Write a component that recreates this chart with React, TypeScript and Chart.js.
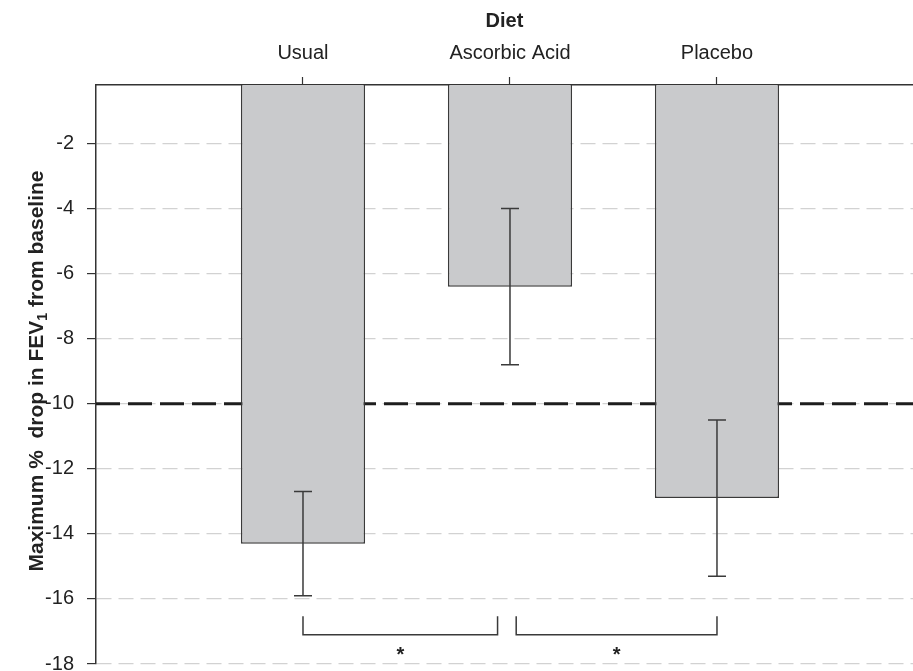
import React, { useEffect, useRef } from "react";
import { Chart, registerables } from "chart.js";

Chart.register(...registerables);

// ---- data ----
const categories = ["Usual", "Ascorbic Acid", "Placebo"];
const categoryPositions = [1, 2, 3];
const meanDrop = [-14.3, -6.4, -12.9];
const errorTop = [-12.7, -4.0, -10.5];
const errorBottom = [-15.9, -8.8, -15.3];
const yTicks = [-2, -4, -6, -8, -10, -12, -14, -16, -18];
const thresholdValue = -10;
const bracketStart = [1, 2.03];
const bracketEnd = [1.94, 3];
const bracketLabels = ["*", "*"];
const bracketLineValue = -17.1;
const bracketTickValue = -16.53;
const bracketLabelValue = -17.6;

const FONT = "'Liberation Sans', Arial, Helvetica, sans-serif";

const overlayPlugin = {
  id: "overlay",
  beforeDatasetsDraw(chart: any) {
    const { ctx, chartArea, scales } = chart;
    const y = scales.y;
    ctx.save();
    ctx.beginPath();
    ctx.rect(chartArea.left, chartArea.top, chartArea.right - chartArea.left, chartArea.bottom - chartArea.top);
    ctx.clip();
    const ty = y.getPixelForValue(thresholdValue);
    ctx.setLineDash([24, 8]);
    ctx.lineWidth = 3;
    ctx.strokeStyle = "#1e1e1e";
    ctx.beginPath();
    ctx.moveTo(chartArea.left, ty);
    ctx.lineTo(chartArea.right, ty);
    ctx.stroke();
    ctx.restore();
  },
  afterDatasetsDraw(chart: any) {
    const { ctx, scales } = chart;
    const x = scales.x;
    const y = scales.y;
    ctx.save();
    ctx.strokeStyle = "#3a3a3a";
    ctx.lineWidth = 1.5;
    ctx.setLineDash([]);
    // error bars
    categoryPositions.forEach((pos, i) => {
      const px = x.getPixelForValue(pos);
      const y1 = y.getPixelForValue(errorTop[i]);
      const y2 = y.getPixelForValue(errorBottom[i]);
      ctx.beginPath();
      ctx.moveTo(px, y1);
      ctx.lineTo(px, y2);
      ctx.moveTo(px - 9, y1);
      ctx.lineTo(px + 9, y1);
      ctx.moveTo(px - 9, y2);
      ctx.lineTo(px + 9, y2);
      ctx.stroke();
    });
    // significance brackets
    const by = y.getPixelForValue(bracketLineValue);
    const bt = y.getPixelForValue(bracketTickValue);
    const sy = y.getPixelForValue(bracketLabelValue);
    ctx.fillStyle = "#222";
    ctx.font = `bold 20px ${FONT}`;
    ctx.textAlign = "center";
    ctx.textBaseline = "middle";
    bracketStart.forEach((s, i) => {
      const x1 = x.getPixelForValue(s);
      const x2 = x.getPixelForValue(bracketEnd[i]);
      ctx.beginPath();
      ctx.moveTo(x1, bt);
      ctx.lineTo(x1, by);
      ctx.lineTo(x2, by);
      ctx.lineTo(x2, bt);
      ctx.stroke();
      ctx.fillText(bracketLabels[i], (x1 + x2) / 2, sy + 4);
    });
    ctx.restore();
  },
  afterDraw(chart: any) {
    const { ctx } = chart;
    ctx.save();
    const main1 = "Maximum %  drop in FEV";
    const sub = "1";
    const main2 = " from baseline";
    ctx.font = `bold 21px ${FONT}`;
    const w1 = ctx.measureText(main1).width;
    const w3 = ctx.measureText(main2).width;
    ctx.font = `bold 14px ${FONT}`;
    const w2 = ctx.measureText(sub).width;
    const total = w1 + w2 + w3;
    ctx.translate(43, 371);
    ctx.rotate(-Math.PI / 2);
    ctx.fillStyle = "#222";
    ctx.textBaseline = "alphabetic";
    ctx.textAlign = "left";
    let cx = -total / 2;
    ctx.font = `bold 21px ${FONT}`;
    ctx.fillText(main1, cx, 0);
    cx += w1;
    ctx.font = `bold 14px ${FONT}`;
    ctx.fillText(sub, cx, 4);
    cx += w2;
    ctx.font = `bold 21px ${FONT}`;
    ctx.fillText(main2, cx, 0);
    ctx.restore();
  },
};

export default function App() {
  const canvasRef = useRef<HTMLCanvasElement | null>(null);

  useEffect(() => {
    if (!canvasRef.current) return;
    const chart = new Chart(canvasRef.current, {
      type: "bar",
      data: {
        datasets: [
          {
            data: categoryPositions.map((p, i) => ({ x: p, y: meanDrop[i] })),
            backgroundColor: "#c9cacc",
            borderColor: "#3a3a3a",
            borderWidth: 1.5,
            barPercentage: 1,
            categoryPercentage: 0.6,
            clip: 0,
          } as any,
        ],
      },
      options: {
        animation: false,
        responsive: false,
        devicePixelRatio: 1,
        layout: { padding: { left: 0, right: 0, top: 0, bottom: 36 } },
        plugins: {
          legend: { display: false },
          tooltip: { enabled: false },
        },
        scales: {
          x: {
            type: "linear",
            position: "top",
            offset: false,
            min: 0,
            max: 3.947,
            afterBuildTicks: (scale: any) => {
              scale.ticks = categoryPositions.map((v) => ({ value: v }));
            },
            afterFit: (scale: any) => {
              scale.height = 85;
            },
            ticks: {
              autoSkip: false,
              maxRotation: 0,
              padding: 12,
              color: "#222",
              font: { family: FONT, size: 20 },
              callback: (v: any) => categories[categoryPositions.indexOf(Number(v))] ?? "",
            },
            grid: {
              offset: false,
              drawOnChartArea: false,
              drawTicks: true,
              tickLength: 8,
              tickColor: "#333",
              tickWidth: 1.2,
            },
            border: { display: true, color: "#333", width: 1.5 },
            title: {
              display: true,
              text: "Diet",
              color: "#222",
              font: { family: FONT, size: 20, weight: "bold" },
              padding: { top: 9, bottom: 0 },
            },
          } as any,
          y: {
            type: "linear",
            min: -18,
            max: -0.2,
            afterBuildTicks: (scale: any) => {
              scale.ticks = yTicks.map((v) => ({ value: v }));
            },
            afterFit: (scale: any) => {
              scale.width = 96;
            },
            ticks: {
              padding: 13,
              color: "#222",
              font: { family: FONT, size: 20 },
              callback: (v: any) => String(v),
            },
            grid: {
              color: "#d2d2d2",
              lineWidth: 1.2,
              drawTicks: true,
              tickLength: 9,
              tickColor: "#333",
              tickWidth: 1.2,
            },
            border: { display: true, color: "#333", width: 1.5, dash: [15, 7] },
          } as any,
        },
      },
      plugins: [overlayPlugin],
    });
    return () => chart.destroy();
  }, []);

  return (
    <div
      style={{
        position: "fixed",
        left: 0,
        top: 0,
        width: 913,
        height: 671,
        overflow: "hidden",
        background: "#fff",
      }}
    >
      <canvas ref={canvasRef} width={913} height={700} style={{ display: "block" }} />
    </div>
  );
}
